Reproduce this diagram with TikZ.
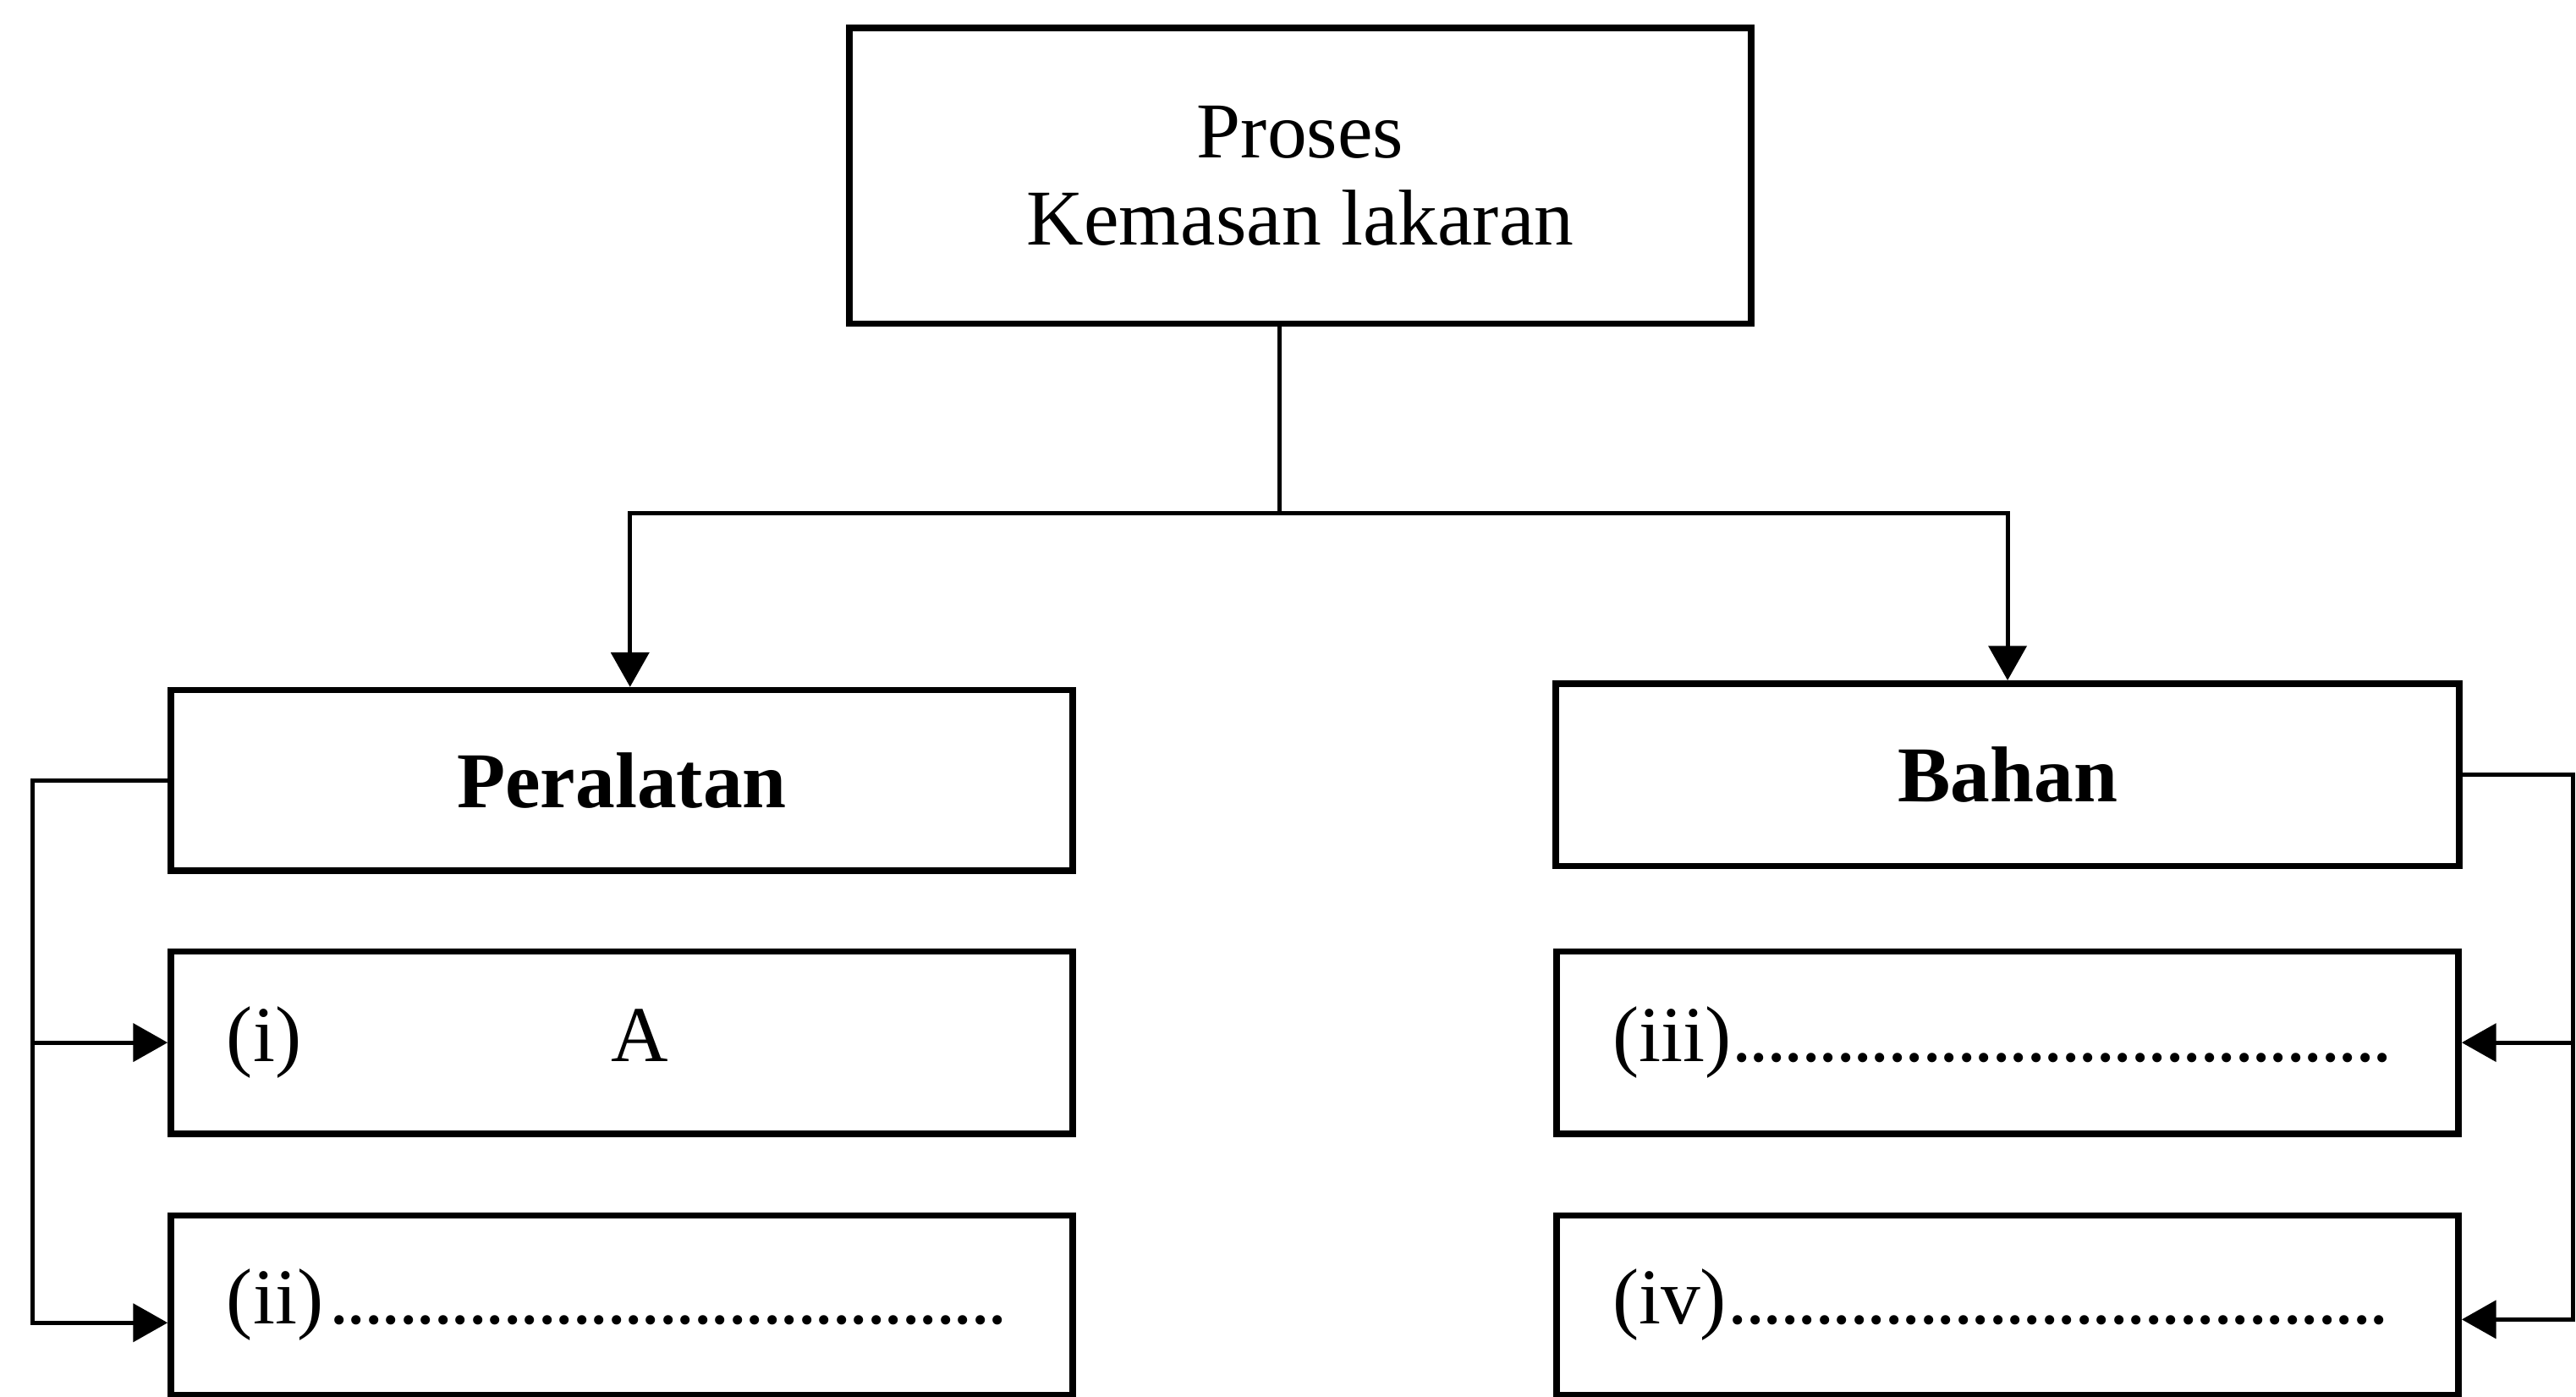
\documentclass[tikz,border=0pt]{standalone}
\usepackage{fontspec}
\setmainfont{Liberation Serif}
\usetikzlibrary{arrows.meta}
\newcommand{\dotrow}[1]{\cleaders\hbox to 3pt{\hss.\hss}\hskip #1\relax\null}

\begin{document}
\begin{tikzpicture}[
    font=\fontsize{13.7}{15.1}\selectfont,
    box/.style={draw, line width=1.1pt, minimum width=5.49cm, minimum height=1.10cm, inner sep=0pt},
    itembox/.style={box, text width=4.81cm, inner xsep=0.34cm, align=left},
    line/.style={line width=0.75pt},
    conn/.style={line width=0.75pt, -{Triangle[length=2.1mm, width=2.3mm]}}
]
    \useasboundingbox (0,0) rectangle (15.68,8.50);

    \node[box, minimum height=1.80cm, align=center] (proses) at (7.915, 7.43) {Proses\\Kemasan lakaran};

    \node[box, font=\fontsize{13.7}{15.1}\selectfont\bfseries] (peralatan) at (3.785, 3.75) {Peralatan};
    \node[itembox, minimum height=1.11cm] (i) at (3.785, 2.155) {\makebox[2.34cm][l]{(i)}A};
    \node[itembox, minimum height=1.09cm] (ii) at (3.785, 0.557) {(ii)\dotrow{4.2cm}};

    \node[box, minimum width=5.50cm, minimum height=1.11cm, font=\fontsize{13.7}{15.1}\selectfont\bfseries] (bahan) at (12.22, 3.785) {Bahan};
    \node[itembox, minimum height=1.11cm] (iii) at (12.22, 2.155) {(iii)\dotrow{4.03cm}};
    \node[itembox, minimum height=1.09cm] (iv) at (12.22, 0.557) {(iv)\dotrow{4.04cm}};

    % fork under the top box
    \coordinate (fork) at (7.79, 5.375);
    \draw[line] (fork |- proses.south) -- (fork);
    \draw[conn] (fork) -| ([xshift=0.05cm]peralatan.north);
    \draw[conn] (fork) -| (bahan.north);

    % side brackets
    \coordinate (lbar) at (0.20, 0.45);
    \coordinate (rbar) at (15.66, 0.47);
    \draw[conn] (peralatan.west) -| (lbar) -- (lbar -| ii.west);
    \draw[conn] (lbar |- i.west) -- (i.west);
    \draw[conn] (bahan.east) -| (rbar) -- (rbar -| iv.east);
    \draw[conn] (rbar |- iii.east) -- (iii.east);
\end{tikzpicture}
\end{document}
